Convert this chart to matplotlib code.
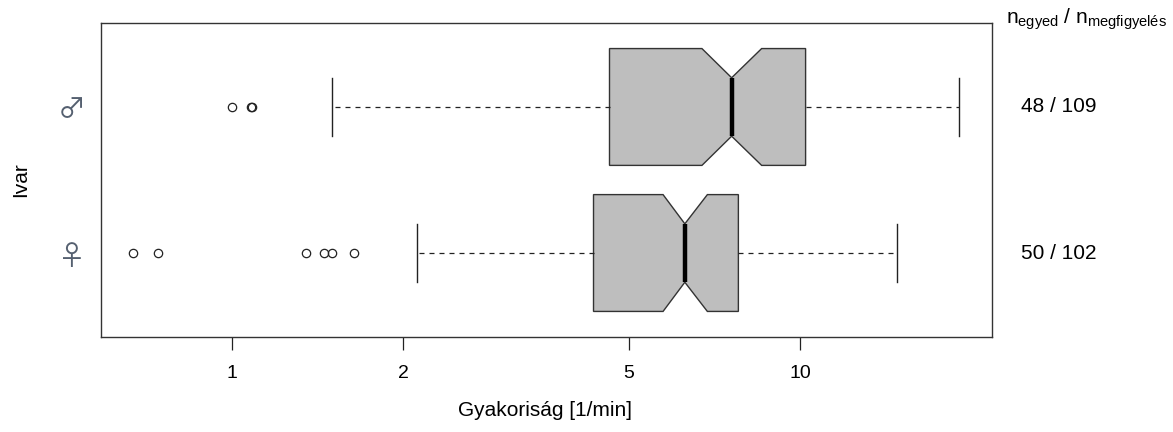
import numpy as np
import matplotlib.pyplot as plt
import matplotlib.transforms as mtransforms

# ----------------------------
# Data
# ----------------------------
groups = ["\u2640", "\u2642"]          # female, male
counts = ["50 / 102", "48 / 109"]       # n_egyed / n_megfigyelés

q1     = [4.33, 4.62]
med    = [6.27, 7.58]
q3     = [7.79, 10.23]
whislo = [2.12, 1.50]
whishi = [14.80, 19.05]
cilo   = [5.74, 6.72]
cihi   = [6.87, 8.56]

fliers_female = [0.67, 0.74, 1.35, 1.45, 1.50, 1.64]
fliers_male   = [1.00, 1.082, 1.085]

xticks = [1, 2, 5, 10]

# ----------------------------
# Plot
# ----------------------------
plt.rcParams["font.family"] = ["Liberation Sans", "DejaVu Sans"]

fig = plt.figure(figsize=(11.73, 4.32), dpi=100)
ax = fig.add_axes([101/1173, 1 - 337/432, 891/1173, 314/432])

stats = []
fliers = [fliers_female, fliers_male]
for i in range(len(groups)):
    stats.append(dict(q1=q1[i], med=med[i], q3=q3[i], whislo=whislo[i], whishi=whishi[i],
                      cilo=cilo[i], cihi=cihi[i], fliers=fliers[i], label=groups[i]))

edge = "#333333"
ax.bxp(stats, positions=[1, 2], widths=0.8, orientation="horizontal", shownotches=True,
       patch_artist=True, showcaps=True,
       boxprops=dict(facecolor="#bebebe", edgecolor=edge, linewidth=1.0),
       medianprops=dict(color="black", linewidth=3.2, solid_capstyle="butt"),
       whiskerprops=dict(color="#222222", linewidth=0.9, linestyle=(0, (4, 4))),
       capprops=dict(color="#222222", linewidth=1.0),
       flierprops=dict(marker="o", markersize=6, markerfacecolor="none",
                       markeredgecolor="#222222", markeredgewidth=0.9, linestyle="none"))

ax.set_xscale("log")
ax.set_xlim(0.588, 21.78)
ax.set_ylim(0.425, 2.575)

ax.set_xticks(xticks)
ax.set_xticklabels([str(t) for t in xticks])
ax.xaxis.set_minor_locator(plt.NullLocator())
ax.tick_params(axis="x", direction="out", length=9.5, width=0.9, color="#222222",
               labelsize=14, pad=11)
ax.set_yticks([1, 2])
ax.set_yticklabels(groups, family=["Noto Sans CJK JP", "DejaVu Sans"], fontsize=20,
                   color="#556070")
ax.tick_params(axis="y", length=0, pad=11)

for s in ax.spines.values():
    s.set_color(edge)
    s.set_linewidth(1.0)

ax.set_xlabel("Gyakoriság [1/min]", fontsize=15)
ax.xaxis.set_label_coords(0.498, -0.205)
ax.set_ylabel("Ivar", fontsize=15)
ax.yaxis.set_label_coords(-0.080, 0.5)

# counts on the right side
trans = mtransforms.blended_transform_factory(fig.transFigure, ax.transData)
for i, c in enumerate(counts):
    ax.text(1021/1173, i + 1, c, transform=trans, ha="left", va="center",
            fontsize=15, clip_on=False)

fig.text(1006/1173, 1 - 24/432,
         r"$\mathregular{n_{egyed}}$ / $\mathregular{n_{megfigyelés}}$",
         ha="left", va="baseline", fontsize=15)

plt.savefig("out.png", dpi=100)
